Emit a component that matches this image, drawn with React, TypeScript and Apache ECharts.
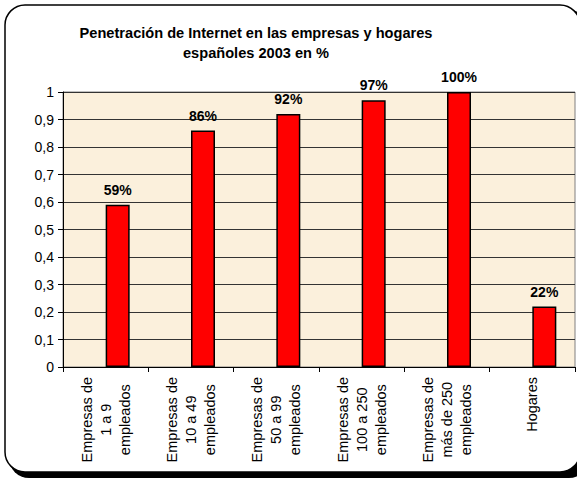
import React, { useEffect, useRef } from "react";
import * as echarts from "echarts";

const categories = [
  "Empresas de\n1 a 9\nempleados",
  "Empresas de\n10 a 49\nempleados",
  "Empresas de\n50 a 99\nempleados",
  "Empresas de\n100 a 250\nempleados",
  "Empresas de\nmás de 250\nempleados",
  "Hogares",
];
const values = [0.59, 0.86, 0.92, 0.97, 1.0, 0.22];
const emptySeries = [null, null, null, null, null, null];
const titleLines = ["Penetración de Internet en las empresas y hogares", "españoles 2003 en %"];

const FONT = "'Liberation Sans', Arial, sans-serif";

export default function App() {
  const ref = useRef<HTMLDivElement>(null);
  useEffect(() => {
    document.body.style.margin = "0";
    const chart = echarts.init(ref.current!, null, { renderer: "svg" });
    chart.setOption({
      animation: false,
      backgroundColor: "#ffffff",
      graphic: [
        {
          type: "rect",
          z: -10,
          silent: true,
          shape: { x: 9, y: 10, width: 580, height: 468, r: 20 },
          style: { fill: "#000000" },
        },
        {
          type: "rect",
          z: -9,
          silent: true,
          shape: { x: 5, y: 5, width: 575, height: 467, r: 20 },
          style: { fill: "#ffffff", stroke: "#000000", lineWidth: 1.5 },
        },
        {
          type: "text",
          z: 10,
          x: 256,
          y: 23,
          style: {
            text: titleLines.join("\n"),
            font: `bold 14.6px ${FONT}`,
            fill: "#000000",
            textAlign: "center",
            textVerticalAlign: "top",
            lineHeight: 20,
          },
        },
      ],
      grid: {
        left: 63,
        right: 2,
        top: 92,
        bottom: 113,
        show: true,
        backgroundColor: "#FBF0DC",
        borderColor: "#808080",
        borderWidth: 1,
        containLabel: false,
      },
      xAxis: {
        type: "category",
        data: categories,
        axisLine: { lineStyle: { color: "#000000", width: 1 } },
        axisTick: { show: true, length: 5, lineStyle: { color: "#000000" } },
        axisLabel: {
          interval: 0,
          rotate: 90,
          margin: 10,
          color: "#000000",
          fontFamily: FONT,
          fontSize: 14.5,
          formatter: (v: string) =>
            v
              .split("\n")
              .map((l) => `{c|${l}}`)
              .join("\n"),
          rich: {
            c: {
              align: "center",
              fontFamily: FONT,
              fontSize: 14.5,
              lineHeight: 19,
              color: "#000000",
            },
          },
        },
      },
      yAxis: {
        type: "value",
        min: 0,
        max: 1,
        interval: 0.1,
        axisLine: { show: true, lineStyle: { color: "#000000", width: 1 } },
        axisTick: { show: true, length: 5, lineStyle: { color: "#000000" } },
        splitLine: { show: true, lineStyle: { color: "#333333", width: 1 } },
        axisLabel: {
          margin: 9,
          color: "#000000",
          fontFamily: FONT,
          fontSize: 14,
          formatter: (v: number) => String(Math.round(v * 10) / 10).replace(".", ","),
        },
      },
      series: [
        {
          type: "bar",
          data: emptySeries,
          barWidth: 24,
          barGap: "0%",
        },
        {
          type: "bar",
          data: values,
          barWidth: 24,
          barGap: "0%",
          itemStyle: { color: "#FF0000", borderColor: "#000000", borderWidth: 1.5 },
          label: {
            show: true,
            position: "top",
            distance: 8,
            color: "#000000",
            fontFamily: FONT,
            fontSize: 14,
            fontWeight: "bold",
            formatter: (p: any) => `${Math.round(p.value * 100)}%`,
          },
        },
      ],
    });
    return () => chart.dispose();
  }, []);
  return (
    <div
      ref={ref}
      style={{ position: "fixed", left: 0, top: 0, width: 577, height: 480 }}
    />
  );
}
